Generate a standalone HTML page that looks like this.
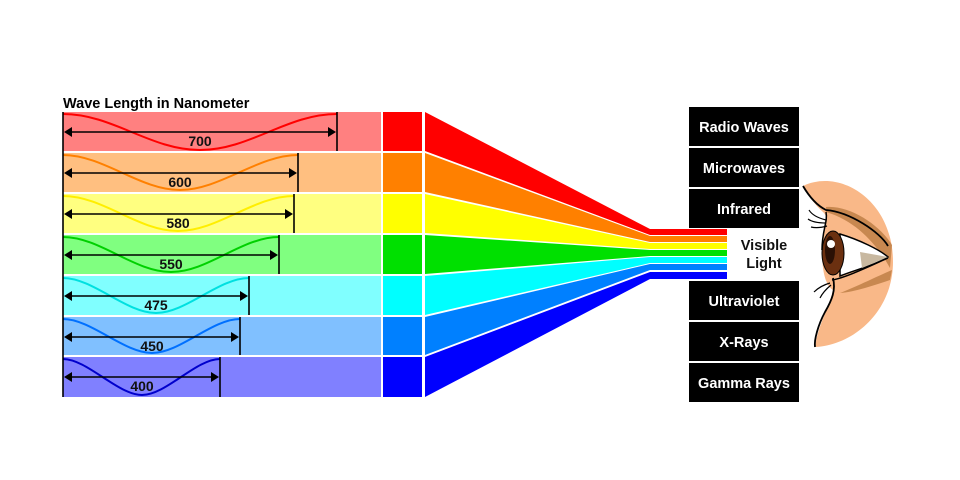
<!DOCTYPE html>
<html><head><meta charset="utf-8"><style>
html,body{margin:0;padding:0;background:#fff;}
svg{display:block;}
text{font-family:"Liberation Sans",Arial,sans-serif;font-weight:bold;}
</style></head><body>
<svg width="960" height="480" viewBox="0 0 960 480" xmlns="http://www.w3.org/2000/svg">
<rect width="960" height="480" fill="#fff"/>
<text x="63" y="108" font-size="14.5" fill="#000">Wave Length in Nanometer</text>
<g id="rows">
<!-- fans -->
<polygon points="425,112 650,229 650,235 425,151" fill="#ff0000"/>
<polygon points="425,153 650,236 650,242 425,192" fill="#ff8000"/>
<polygon points="425,194 650,243 650,249 425,233" fill="#ffff00"/>
<polygon points="425,235 650,250 650,256 425,274" fill="#00e000"/>
<polygon points="425,276 650,257 650,263 425,315" fill="#00ffff"/>
<polygon points="425,317 650,264 650,270 425,355" fill="#0080ff"/>
<polygon points="425,357 650,272 650,279 425,397" fill="#0000ff"/>
<!-- stripes -->
<rect x="650" y="229" width="77" height="6" fill="#ff0000"/>
<rect x="650" y="236" width="77" height="6" fill="#ff8000"/>
<rect x="650" y="243" width="77" height="6" fill="#ffff00"/>
<rect x="650" y="250" width="77" height="6" fill="#00e000"/>
<rect x="650" y="257" width="77" height="6" fill="#00ffff"/>
<rect x="650" y="264" width="77" height="6" fill="#0080ff"/>
<rect x="650" y="272" width="77" height="7" fill="#0000ff"/>
<!-- rows -->
<rect x="63" y="112" width="318" height="39" fill="#ff8080"/><rect x="383" y="112" width="39" height="39" fill="#ff0000"/>
<rect x="63" y="153" width="318" height="39" fill="#ffbf80"/><rect x="383" y="153" width="39" height="39" fill="#ff8000"/>
<rect x="63" y="194" width="318" height="39" fill="#ffff80"/><rect x="383" y="194" width="39" height="39" fill="#ffff00"/>
<rect x="63" y="235" width="318" height="39" fill="#80ff80"/><rect x="383" y="235" width="39" height="39" fill="#00e000"/>
<rect x="63" y="276" width="318" height="39" fill="#80ffff"/><rect x="383" y="276" width="39" height="39" fill="#00ffff"/>
<rect x="63" y="317" width="318" height="38" fill="#80c0ff"/><rect x="383" y="317" width="39" height="38" fill="#0080ff"/>
<rect x="63" y="357" width="318" height="40" fill="#8080ff"/><rect x="383" y="357" width="39" height="40" fill="#0000ff"/>
</g>
<g fill="none" stroke-width="2">
<path d="M63,114 C113,114 150,150 200,150 S287,114 337,114" stroke="#ff0000"/>
<path d="M63,155 C103,155 140,190 180,190 S258,155 298,155" stroke="#ff8000"/>
<path d="M63,196 C103,196 138,231 178,231 S254,196 294,196" stroke="#ffee00"/>
<path d="M63,237 C100,237 134,272 171,272 S242,237 279,237" stroke="#00d000"/>
<path d="M63,278 C93,278 126,313 156,313 S219,278 249,278" stroke="#00e0e0"/>
<path d="M63,319 C91,319 124,353 152,353 S212,319 240,319" stroke="#0070ff"/>
<path d="M63,359 C87,359 118,395 142,395 S196,359 220,359" stroke="#0000cc"/>
</g>
<g stroke="#000" stroke-width="1.6" fill="#000">
<line x1="63" y1="112" x2="63" y2="397"/>
<line x1="337" y1="112" x2="337" y2="151"/><line x1="68" y1="132" x2="332" y2="132"/>
<line x1="298" y1="153" x2="298" y2="192"/><line x1="68" y1="173" x2="293" y2="173"/>
<line x1="294" y1="194" x2="294" y2="233"/><line x1="68" y1="214" x2="289" y2="214"/>
<line x1="279" y1="235" x2="279" y2="274"/><line x1="68" y1="255" x2="274" y2="255"/>
<line x1="249" y1="276" x2="249" y2="315"/><line x1="68" y1="296" x2="244" y2="296"/>
<line x1="240" y1="317" x2="240" y2="355"/><line x1="68" y1="337" x2="235" y2="337"/>
<line x1="220" y1="357" x2="220" y2="397"/><line x1="68" y1="377" x2="215" y2="377"/>
</g>
<g fill="#000">
<polygon points="64,132 72,127 72,137"/><polygon points="336,132 328,127 328,137"/>
<polygon points="64,173 72,168 72,178"/><polygon points="297,173 289,168 289,178"/>
<polygon points="64,214 72,209 72,219"/><polygon points="293,214 285,209 285,219"/>
<polygon points="64,255 72,250 72,260"/><polygon points="278,255 270,250 270,260"/>
<polygon points="64,296 72,291 72,301"/><polygon points="248,296 240,291 240,301"/>
<polygon points="64,337 72,332 72,342"/><polygon points="239,337 231,332 231,342"/>
<polygon points="64,377 72,372 72,382"/><polygon points="219,377 211,372 211,382"/>
</g>
<g font-size="14" text-anchor="middle" fill="#111">
<text x="200" y="146">700</text><text x="180" y="187">600</text><text x="178" y="228">580</text>
<text x="171" y="269">550</text><text x="156" y="310">475</text><text x="152" y="351">450</text><text x="142" y="391">400</text>
</g>
<g fill="#000">
<rect x="689" y="107" width="110" height="39"/><rect x="689" y="148" width="110" height="39"/><rect x="689" y="189" width="110" height="39"/>
<rect x="689" y="281" width="110" height="39"/><rect x="689" y="322" width="110" height="39"/><rect x="689" y="363" width="110" height="39"/>
</g>
<g font-size="14.5" text-anchor="middle" fill="#fff">
<text x="744" y="132">Radio Waves</text><text x="744" y="173">Microwaves</text><text x="744" y="214">Infrared</text>
<text x="744" y="306">Ultraviolet</text><text x="744" y="347">X-Rays</text><text x="744" y="388">Gamma Rays</text>
</g>
<g font-size="14.5" text-anchor="middle" fill="#111"><text x="764" y="250">Visible</text><text x="764" y="268">Light</text></g>
<!-- eye -->
<path d="M803,186 C840,168 893,200 893,262 C893,310 855,345 815,347 C818,325 830,305 833,290 C825,285 822,270 822,250 C822,228 830,218 823,212 C815,205 808,195 803,186 Z" fill="#f9b888"/>
<path d="M826,207 C850,205 880,225 892,245 L890,268 C880,250 860,222 826,212 Z" fill="#c88850"/>
<path d="M840,293 C860,285 880,275 892,270 L890,280 C875,285 855,292 840,293 Z" fill="#c88850"/>
<path d="M840,234 C860,240 880,250 888,257 C875,265 855,270 840,276 Z" fill="#fff" stroke="#000" stroke-width="1.5"/>
<path d="M860,252 L888,257 L862,268 Z" fill="#c8b8a0"/>
<ellipse cx="833" cy="253" rx="11" ry="22" fill="#6b3010" stroke="#000" stroke-width="1"/>
<ellipse cx="830" cy="250" rx="5" ry="14" fill="#2a1005"/>
<circle cx="831" cy="244" r="4" fill="#fff"/>
<path d="M803,186 C810,198 818,206 826,210 C850,212 880,232 888,246" fill="none" stroke="#000" stroke-width="1.8"/>
<path d="M826,212 C828,222 822,230 822,250" fill="none" stroke="#000" stroke-width="1.5"/>
<path d="M832,280 C845,278 870,266 888,258" fill="none" stroke="#000" stroke-width="1.5"/>
<path d="M833,278 C836,290 832,300 825,312 C818,325 814,340 815,347" fill="none" stroke="#000" stroke-width="1.8"/>
<g stroke="#000" stroke-width="1.2" fill="none">
<path d="M826,220 C818,218 812,215 809,210"/><path d="M826,223 C818,223 812,222 808,219"/><path d="M827,226 C820,228 815,228 811,227"/>
<path d="M830,283 C823,285 818,288 814,292"/><path d="M831,285 C825,290 822,294 820,298"/>
</g>
</svg>
</body></html>
